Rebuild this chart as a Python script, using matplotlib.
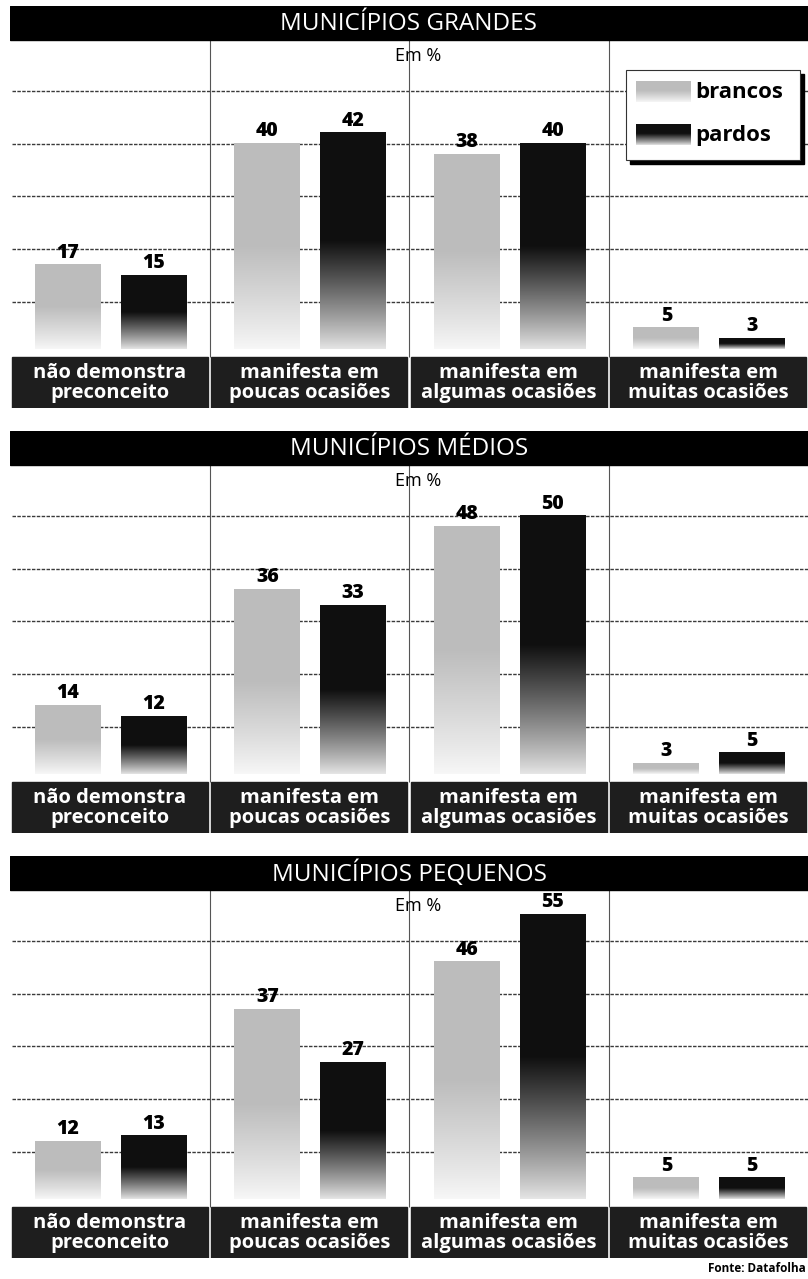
"""Preconceito por porte de município - three stacked grouped bar panels."""

import numpy as np
import matplotlib
matplotlib.use("Agg")
import matplotlib.pyplot as plt
from matplotlib.patches import Rectangle

plt.rcParams["font.family"] = ["Open Sans", "DejaVu Sans"]

categories = ["não demonstra\npreconceito", "manifesta em\npoucas ocasiões",
              "manifesta em\nalgumas ocasiões", "manifesta em\nmuitas ocasiões"]
titles = ["MUNICÍPIOS GRANDES", "MUNICÍPIOS MÉDIOS", "MUNICÍPIOS PEQUENOS"]
series_names = ["brancos", "pardos"]

brancos_grandes = [17, 40, 38, 5]
pardos_grandes = [15, 42, 40, 3]
brancos_medios = [14, 36, 48, 3]
pardos_medios = [12, 33, 50, 5]
brancos_pequenos = [12, 37, 46, 5]
pardos_pequenos = [13, 27, 55, 5]

panels = [
    (titles[0], brancos_grandes, pardos_grandes),
    (titles[1], brancos_medios, pardos_medios),
    (titles[2], brancos_pequenos, pardos_pequenos),
]

W, H = 808, 1279
YMIN, YMAX = -10.2, 66.1
HEAD_Y = 59.7
TOP_COL = {"brancos": np.array([0.74, 0.74, 0.74]), "pardos": np.array([0.06, 0.06, 0.06])}
BOT_COL = {"brancos": np.array([0.97, 0.97, 0.97]), "pardos": np.array([0.90, 0.90, 0.90])}


def gradient(name, n=256, solid=0.5):
    t = np.linspace(0, 1, n)
    f = np.clip(t / (1 - solid), 0, 1) ** 0.9
    rgb = BOT_COL[name][None, :] * (1 - f[:, None]) + TOP_COL[name][None, :] * f[:, None]
    return rgb[:, None, :]


def grad_bar(ax, xc, width, top, name, bottom=1.0):
    ax.imshow(gradient(name), extent=[xc - width / 2, xc + width / 2, bottom, top],
              origin="lower", aspect="auto", interpolation="bilinear", zorder=3)


fig = plt.figure(figsize=(W / 100, H / 100), dpi=100)
fig.patch.set_facecolor("white")

for p, (title, brancos, pardos) in enumerate(panels):
    top_px = 6 + 425 * p
    bot_px = top_px + 402
    ax = fig.add_axes([10 / W, 1 - bot_px / H, (W - 10) / W, 402 / H])
    ax.set_axis_off()

    # header
    ax.add_patch(Rectangle((0, HEAD_Y), 4, YMAX - HEAD_Y, color="black", zorder=5))
    ax.text(2, (HEAD_Y + YMAX) / 2 - 0.2, title, color="white", ha="center",
            va="center", fontsize=17.5, zorder=6)
    ax.text(2.045, 56.6, "Em %", ha="center", va="center", fontsize=13, zorder=6)

    # grid and separators
    ax.hlines([10, 20, 30, 40, 50], 0.01, 4, colors="#3a3a3a", lw=1.0,
              linestyles=(0, (2.5, 1.0)), zorder=1)
    ax.vlines([1, 2, 3], -0.5, HEAD_Y, colors="#555555", lw=0.8, zorder=1)

    for i in range(4):
        for name, vals, off in (("brancos", brancos, 0.29), ("pardos", pardos, 0.72)):
            v = vals[i]
            grad_bar(ax, i + off, 0.33, v, name)
            ax.text(i + off, v + 0.4, str(v), ha="center", va="bottom",
                    fontsize=14, fontweight="heavy", zorder=6)
        # category label box
        ax.add_patch(Rectangle((i + 0.01, YMIN), 0.98, -0.6 - YMIN,
                               color="#1e1e1e", zorder=4))
        ax.text(i + 0.5, (YMIN - 0.6) / 2, categories[i], color="white",
                ha="center", va="center", fontsize=14.5, fontweight="bold",
                linespacing=1.02, zorder=6)

    if p == 0:
        x0, x1, y0, y1 = 3.088, 3.96, 36.8, 53.9
        ax.add_patch(Rectangle((x0 + 0.02, y0 - 0.75), x1 - x0, y1 - y0,
                               color="black", zorder=6))
        ax.add_patch(Rectangle((x0, y0), x1 - x0, y1 - y0, facecolor="white",
                               edgecolor="#333333", lw=0.8, zorder=7))
        for name, yc in (("brancos", 49.7), ("pardos", 41.6)):
            ax.imshow(gradient(name, solid=0.45), extent=[3.138, 3.409, yc - 1.9, yc + 1.9],
                      origin="lower", aspect="auto", interpolation="bilinear", zorder=8)
            ax.text(3.435, yc, name, ha="left", va="center", fontsize=16,
                    fontweight="bold", zorder=8)

    ax.set_xlim(0, 4)
    ax.set_ylim(YMIN, YMAX)

fig.text(806 / W, 1 - 1268 / H, "Fonte: Datafolha", ha="right", va="center",
         fontsize=8.5, fontweight="bold")

fig.savefig("out.png", dpi=100, facecolor="white")
